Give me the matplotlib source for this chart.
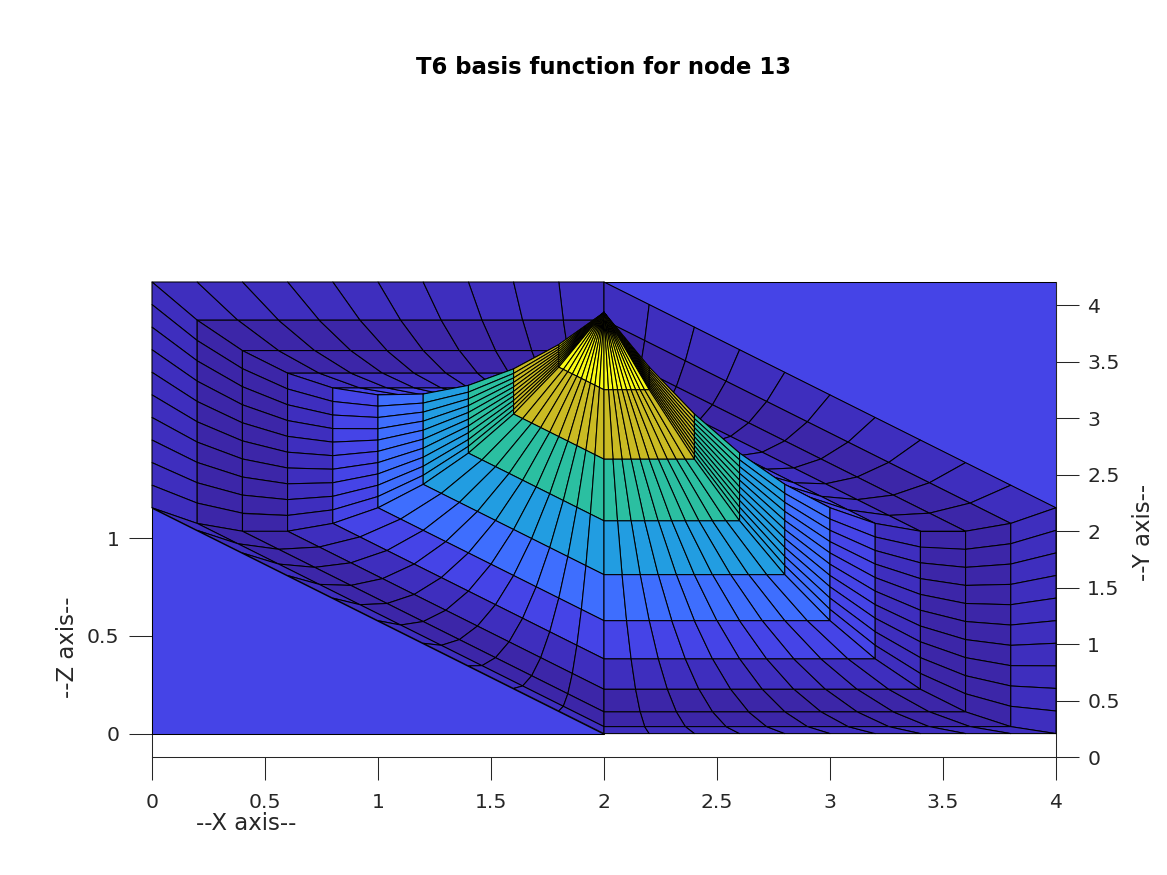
import numpy as np
import matplotlib
matplotlib.use("Agg")
import matplotlib.pyplot as plt
from matplotlib.collections import PolyCollection
from matplotlib.colors import LinearSegmentedColormap, Normalize

# basis function height on each ring, peak first, support edge last
ring_values = [1.0, 0.72, 0.48, 0.28, 0.12, 0.0, -0.08, -0.12, -0.12, -0.08, 0.0]

# peak node, then the two far corners of each element with a nonzero function
peak = [2.0, 2.0]
element_a = [[2.0, 0.0], [4.0, 0.0]]
element_b = [[4.0, 0.0], [4.0, 2.0]]
element_c = [[4.0, 2.0], [2.0, 4.0]]
element_d = [[2.0, 4.0], [0.0, 4.0]]
element_e = [[0.0, 4.0], [0.0, 2.0]]
element_f = [[0.0, 2.0], [2.0, 0.0]]

# the two corner elements where the function is zero
flat_back = [[2.0, 4.0], [4.0, 4.0], [4.0, 2.0]]
flat_front = [[0.0, 2.0], [0.0, 0.0], [2.0, 0.0]]

x_ticks = [0, 0.5, 1, 1.5, 2, 2.5, 3, 3.5, 4]
x_labels = ["0", "0.5", "1", "1.5", "2", "2.5", "3", "3.5", "4"]
y_ticks = [0, 0.5, 1, 1.5, 2, 2.5, 3, 3.5, 4]
y_labels = ["0", "0.5", "1", "1.5", "2", "2.5", "3", "3.5", "4"]
z_ticks = [0, 0.5, 1]
z_labels = ["0", "0.5", "1"]

W, H = 1167, 875
n_spokes = 10

# pixel rows of the view
row_axis0 = 757.3
row_base0 = 733.6
row_top = 282.0
px_per_y_axis = 113.0
px_per_y_base = (row_base0 - row_top) / 4
px_per_z = 195.3


def project(y, z):
    # surface point to the data coordinate of the right hand y axis
    row = row_base0 - px_per_y_base * y - px_per_z * z
    return (row_axis0 - row) / px_per_y_axis


def z_to_axis(z):
    return project(0.0, np.asarray(z, dtype=float))


def axis_to_z(v):
    row = row_axis0 - np.asarray(v, dtype=float) * px_per_y_axis
    return (row_base0 - row) / px_per_z


fig = plt.figure(figsize=(W / 100, H / 100), dpi=100)
ax = fig.add_axes([152 / W, 1 - row_axis0 / H, 904 / W, (row_axis0 - row_top) / H])
ax.set_xlim(0, 4)
ax.set_ylim(0, (row_axis0 - row_top) / px_per_y_axis)

polys = []
vals = []
depth = []
p = np.array(peak)
for elem in [element_a, element_b, element_c, element_d, element_e, element_f]:
    c1, c2 = np.array(elem[0]), np.array(elem[1])
    for k in range(10):
        f0, f1 = k / 10, (k + 1) / 10
        for j in range(n_spokes):
            s0, s1 = j / n_spokes, (j + 1) / n_spokes
            e0 = c1 + (c2 - c1) * s0
            e1 = c1 + (c2 - c1) * s1
            pts = [p + (e0 - p) * f0, p + (e1 - p) * f0, p + (e1 - p) * f1, p + (e0 - p) * f1]
            zs = [ring_values[k], ring_values[k], ring_values[k + 1], ring_values[k + 1]]
            polys.append([(q[0], project(q[1], z)) for q, z in zip(pts, zs)])
            vals.append(ring_values[k])
            depth.append(np.mean([q[1] for q in pts]))

order = np.argsort(depth)[::-1]
polys = [polys[i] for i in order]
vals = [vals[i] for i in order]

# parula colours as they show up in the picture
anchors = [-0.12, -0.08, 0.0, 0.12, 0.28, 0.48, 0.72, 1.0]
anchor_cols = ["#3c26a8", "#3e2ebe", "#4544e8", "#3e6efe", "#229de1", "#2bbfa1", "#cabb23", "#f9fb15"]
norm = Normalize(-0.12, 1.0)
cmap = LinearSegmentedColormap.from_list("parula_ish", [(float(norm(a)), c) for a, c in zip(anchors, anchor_cols)], N=512)

back = PolyCollection([[(q[0], project(q[1], 0.0)) for q in flat_back]], array=np.array([0.0]),
                      cmap=cmap, norm=norm, edgecolors="k", linewidths=0.75, clip_on=False, zorder=2)
ax.add_collection(back)
mesh = PolyCollection(polys, array=np.array(vals), cmap=cmap, norm=norm,
                      edgecolors="k", linewidths=0.75, clip_on=False, zorder=3)
ax.add_collection(mesh)
front = PolyCollection([[(q[0], project(q[1], 0.0)) for q in flat_front]], array=np.array([0.0]),
                       cmap=cmap, norm=norm, edgecolors="k", linewidths=0.75, clip_on=False, zorder=4)
ax.add_collection(front)

dark = "#262626"
ax.spines["top"].set_visible(False)
for name in ["left", "right", "bottom"]:
    ax.spines[name].set_linewidth(0.75)
    ax.spines[name].set_color(dark)
ax.set_xticks(x_ticks)
ax.set_xticklabels(x_labels)
ax.yaxis.tick_right()
ax.set_yticks(y_ticks)
ax.set_yticklabels(y_labels)
ax.tick_params(axis="x", length=16.5, width=0.75, color=dark, labelcolor=dark, labelsize=14.7, pad=9.3)
ax.tick_params(axis="y", length=16.5, width=0.75, color=dark, labelcolor=dark, labelsize=14.7, pad=6)

zax = ax.secondary_yaxis("left", functions=(axis_to_z, z_to_axis))
zax.set_yticks(z_ticks)
zax.set_yticklabels(z_labels)
zax.spines["left"].set_visible(False)
zax.tick_params(axis="y", length=16.5, width=0.75, color=dark, labelcolor=dark, labelsize=14.7, pad=7)

fig.text(603.5 / W, 1 - 67 / H, "T6 basis function for node 13", ha="center", va="center",
         fontsize=16.4, fontweight="bold", color="k")
fig.text(246.5 / W, 1 - 824 / H, "--X axis--", ha="center", va="center", fontsize=16.5, color=dark)
fig.text(68 / W, 1 - 647.5 / H, "--Z axis--", ha="center", va="center", rotation=90, fontsize=16.5, color=dark)
fig.text(1144 / W, 1 - 532.5 / H, "--Y axis--", ha="center", va="center", rotation=90, fontsize=16.5, color=dark)

fig.savefig("out.png", dpi=100)
